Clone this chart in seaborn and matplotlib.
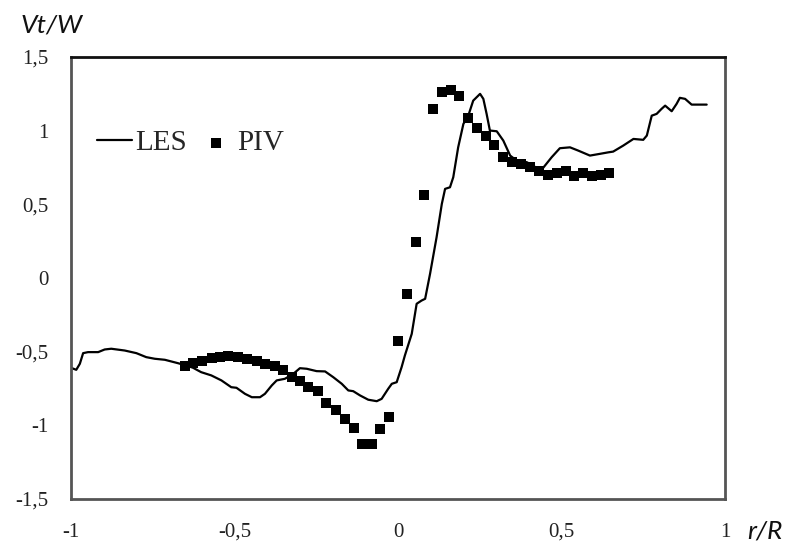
import pandas as pd
import matplotlib.pyplot as plt
import seaborn as sns

# LES curve (r/R, Vt/W)
les_r = [-0.997, -0.984, -0.973, -0.963, -0.948, -0.917, -0.897, -0.877, -0.836, -0.800,
         -0.770, -0.744, -0.713, -0.673, -0.647, -0.627, -0.602, -0.571, -0.540, -0.510,
         -0.494, -0.468, -0.447, -0.422, -0.407, -0.386, -0.371, -0.346, -0.320, -0.300,
         -0.279, -0.249, -0.223, -0.198, -0.172, -0.152, -0.137, -0.116, -0.091, -0.065,
         -0.050, -0.030, -0.019, -0.004, 0.011, 0.021, 0.042, 0.057, 0.072, 0.083,
         0.098, 0.118, 0.134, 0.144, 0.159, 0.169, 0.184, 0.200, 0.215, 0.230,
         0.251, 0.261, 0.271, 0.281, 0.302, 0.322, 0.343, 0.363, 0.394, 0.424,
         0.444, 0.470, 0.495, 0.526, 0.551, 0.587, 0.618, 0.643, 0.658, 0.689,
         0.720, 0.750, 0.761, 0.776, 0.791, 0.806, 0.817, 0.837, 0.852, 0.862,
         0.878, 0.898, 0.924, 0.944]
les_v = [-0.612, -0.623, -0.582, -0.510, -0.503, -0.503, -0.485, -0.480, -0.492, -0.510,
         -0.537, -0.548, -0.555, -0.578, -0.594, -0.609, -0.639, -0.661, -0.695, -0.741,
         -0.745, -0.786, -0.809, -0.809, -0.786, -0.729, -0.695, -0.684, -0.650, -0.612,
         -0.616, -0.632, -0.634, -0.673, -0.718, -0.763, -0.768, -0.797, -0.826, -0.836,
         -0.820, -0.752, -0.718, -0.707, -0.605, -0.526, -0.379, -0.175, -0.153, -0.141,
         0.028, 0.277, 0.503, 0.605, 0.616, 0.684, 0.887, 1.046, 1.102, 1.204,
         1.250, 1.216, 1.114, 1.001, 0.996, 0.933, 0.831, 0.797, 0.786, 0.748,
         0.748, 0.820, 0.881, 0.887, 0.865, 0.831, 0.843, 0.853, 0.858, 0.899,
         0.944, 0.938, 0.967, 1.102, 1.114, 1.148, 1.170, 1.132, 1.182, 1.223,
         1.216, 1.177, 1.177, 1.177]

# PIV measurements
piv_r = [-0.651, -0.626, -0.600, -0.570, -0.544, -0.519, -0.488, -0.463, -0.432, -0.407,
         -0.376, -0.351, -0.325, -0.300, -0.274, -0.246, -0.219, -0.190, -0.162, -0.135,
         -0.109, -0.080, -0.055, -0.027, 0.001, 0.027, 0.054, 0.080, 0.108, 0.134,
         0.161, 0.187, 0.213, 0.241, 0.268, 0.295, 0.322, 0.350, 0.375, 0.404,
         0.431, 0.460, 0.485, 0.513, 0.539, 0.567, 0.594, 0.621, 0.646]
piv_v = [-0.598, -0.575, -0.560, -0.544, -0.533, -0.526, -0.537, -0.548, -0.566, -0.582,
         -0.598, -0.621, -0.673, -0.702, -0.741, -0.768, -0.849, -0.894, -0.955, -1.016,
         -1.125, -1.125, -1.028, -0.944, -0.429, -0.107, 0.243, 0.566, 1.148, 1.265,
         1.279, 1.238, 1.087, 1.019, 0.967, 0.904, 0.820, 0.786, 0.775, 0.756,
         0.729, 0.702, 0.711, 0.723, 0.691, 0.711, 0.695, 0.702, 0.714]

x_ticks = [-1, -0.5, 0, 0.5, 1]
x_labels = ["-1", "-0,5", "0", "0,5", "1"]
y_ticks = [-1.5, -1, -0.5, 0, 0.5, 1, 1.5]
y_labels = ["-1,5", "-1", "-0,5", "0", "0,5", "1", "1,5"]

sns.set_style("white")
plt.rcParams['font.family'] = ['Liberation Serif', 'DejaVu Serif']

les = pd.DataFrame({'r': les_r, 'v': les_v})
piv = pd.DataFrame({'r': piv_r, 'v': piv_v})

fig = plt.figure(figsize=(7.9, 5.42), dpi=100)
ax = fig.add_axes([0.0899, 0.0793, 0.8278, 0.8155])

sns.lineplot(data=les, x='r', y='v', ax=ax, color='black', linewidth=1.6,
             sort=False, label='LES')
sns.scatterplot(data=piv, x='r', y='v', ax=ax, color='black', marker='s',
                s=48, linewidth=0, label='PIV')

ax.set_xlim(-1, 1)
ax.set_ylim(-1.5, 1.5)
ax.set_xticks(x_ticks)
ax.set_xticklabels(x_labels)
ax.set_yticks(y_ticks)
ax.set_yticklabels(y_labels)
ax.set_xlabel('')
ax.set_ylabel('')
ax.tick_params(direction='in', length=4, width=1, color='#c8c8c8',
               labelsize=15, labelcolor='#222222')
ax.tick_params(axis='y', pad=16)
ax.tick_params(axis='x', pad=17)

for side in ['left', 'bottom', 'right']:
    ax.spines[side].set_color('#555555')
    ax.spines[side].set_linewidth(2)
ax.spines['top'].set_color('#111111')
ax.spines['top'].set_linewidth(2)

ax.legend(ncol=2, frameon=False, loc='center left', bbox_to_anchor=(0.04, 0.805),
          borderpad=0, borderaxespad=0, handlelength=1.2, handletextpad=0.1,
          columnspacing=0.42, prop={'family': 'Liberation Serif', 'size': 21})

fig.text(52 / 790, 1 - 25 / 542, 'Vt/W', family='Lato', style='italic',
         fontsize=19, ha='center', va='center', color='#111111')
fig.text(765 / 790, 1 - 531 / 542, 'r/R', family='Lato', style='italic',
         fontsize=19, ha='center', va='center', color='#111111')

fig.savefig('out.png', dpi=100)
